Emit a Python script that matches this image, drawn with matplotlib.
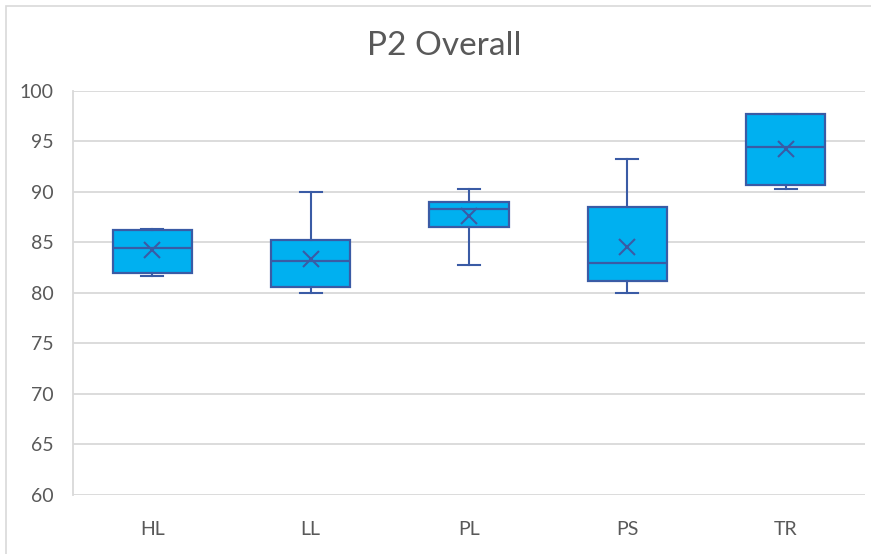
import matplotlib
matplotlib.use("Agg")
import matplotlib.pyplot as plt
from matplotlib.patches import Rectangle

# values
categories = ["HL", "LL", "PL", "PS", "TR"]
whisker_low = [81.7, 80.0, 82.8, 80.0, 90.3]
q1 = [81.95, 80.6, 86.5, 81.2, 90.7]
medians = [84.5, 83.2, 88.3, 83.0, 94.5]
q3 = [86.2, 85.25, 89.0, 88.55, 97.7]
whisker_high = [86.35, 90.0, 90.3, 93.3, 97.7]
means = [84.3, 83.4, 87.6, 84.6, 94.3]

text_gray = "#595959"
grid_gray = "#D9D9D9"
box_fill = "#00B0F0"
box_edge = "#3A5BA5"

plt.rcParams["font.family"] = ["Lato", "DejaVu Sans"]

fig = plt.figure(figsize=(8.71, 5.54), dpi=100)
ax = fig.add_axes([73 / 871, 59 / 554, (865 - 73) / 871, (495 - 91) / 554])

# chart border like Excel
fig.patches.append(Rectangle((6 / 871, -0.05), 1.1, (554 - 6) / 554 + 0.05,
                             transform=fig.transFigure, fill=False,
                             edgecolor=grid_gray, linewidth=1.2))

stats = []
for i, name in enumerate(categories):
    stats.append({
        "label": name,
        "whislo": whisker_low[i],
        "q1": q1[i],
        "med": medians[i],
        "q3": q3[i],
        "whishi": whisker_high[i],
        "mean": means[i],
        "fliers": [],
    })

positions = list(range(1, len(categories) + 1))
ax.bxp(stats, positions=positions, widths=0.5, patch_artist=True,
       showmeans=True, capwidths=0.14,
       boxprops=dict(facecolor=box_fill, edgecolor=box_edge, linewidth=1.6),
       medianprops=dict(color=box_edge, linewidth=1.6),
       whiskerprops=dict(color=box_edge, linewidth=1.5),
       capprops=dict(color=box_edge, linewidth=1.5),
       meanprops=dict(marker="x", markeredgecolor=box_edge, markersize=11,
                      markeredgewidth=1.5))

ax.set_xlim(0.5, 5.5)
ax.set_ylim(60, 100)
ax.set_yticks(range(60, 101, 5))
ax.yaxis.grid(True, color=grid_gray, linewidth=1.3)
ax.set_axisbelow(True)

for side in ["top", "right", "bottom"]:
    ax.spines[side].set_visible(False)
ax.spines["left"].set_color(grid_gray)
ax.spines["left"].set_linewidth(1.3)

ax.tick_params(axis="both", length=0, colors=text_gray, labelsize=14)
ax.tick_params(axis="y", pad=14)
ax.tick_params(axis="x", pad=19)
ax.set_xticks(positions)
ax.set_xticklabels(categories)

fig.text(444 / 871, 1 - 46 / 554, "P2 Overall", ha="center", va="center",
         fontsize=24, color=text_gray)

fig.savefig("out.png", dpi=100)
